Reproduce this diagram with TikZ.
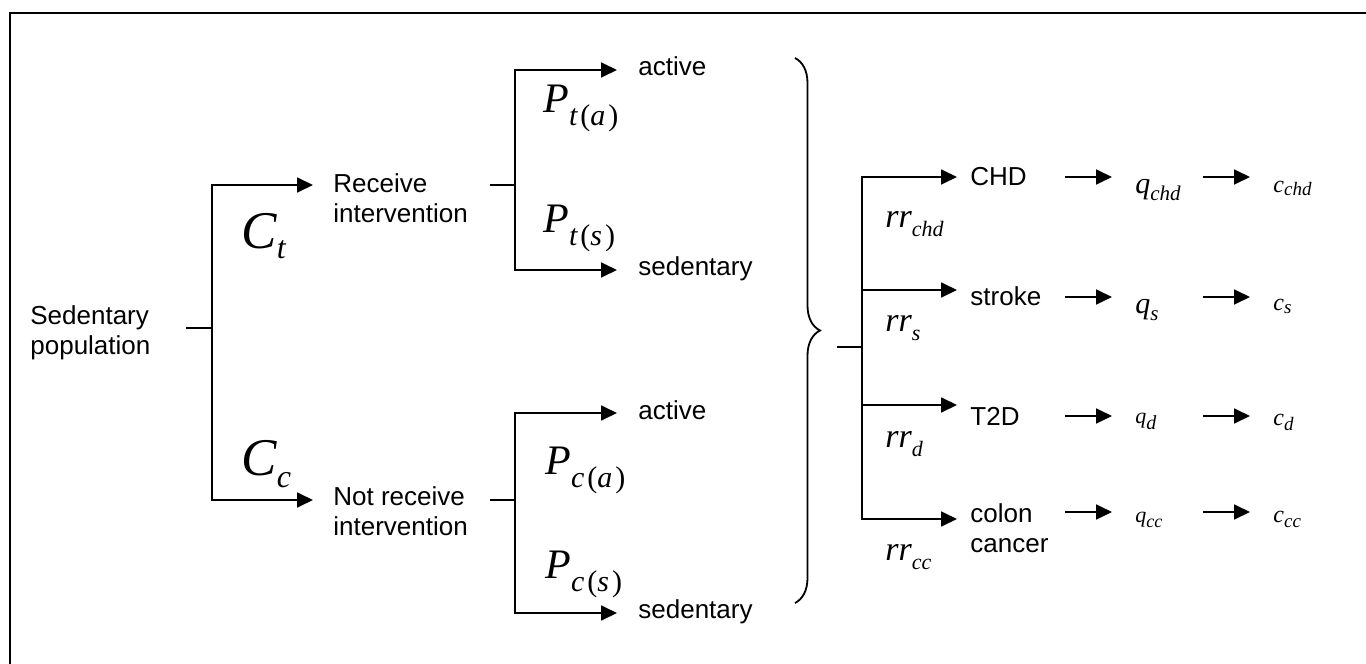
\documentclass[tikz,border=0pt]{standalone}
\usepackage{fontspec}
\setmainfont{Liberation Sans}
\newfontfamily\tms{Liberation Serif}
\usetikzlibrary{arrows.meta,decorations.pathreplacing}

% italic symbol with a lowered subscript: sizes, symbol, subscript, drop
\newcommand\vlab[5]{{\tms\itshape\fontsize{#1}{#1}\selectfont #3\raisebox{-#5}{\fontsize{#2}{#2}\selectfont #4}}}
\newcommand\up[1]{{\upshape #1}}

\tikzset{
  wire/.style={line width=0.9pt},
  arr/.style={wire, -{Triangle[length=8pt,width=7.5pt]}},
  frame/.style={line width=1.1pt},
  % base anchor of a multi-line node sits on its last line
  txt/.style={inner sep=0pt, anchor=base west, align=left,
              font=\fontsize{13}{15}\selectfont},
  lab/.style={inner sep=0pt, anchor=base west},
  bracket/.style={line width=0.9pt, decorate,
                  decoration={brace, amplitude=12.5pt}},
}

\begin{document}
\begin{tikzpicture}[x=0.5pt,y=-0.5pt]
\useasboundingbox (0,0) rectangle (1366,664);
\draw[frame] (10,664) -- (10,13) -- (1366,13);

% ---- first split: intervention or not
\node[txt] (pop)  at (30,354)  {Sedentary\\population};
\node[txt] (recv) at (333,222) {Receive\\intervention};
\node[txt] (nrec) at (333,535) {Not receive\\intervention};

\coordinate (popOut) at (186,328);
\coordinate (j1)     at (212,328);
\coordinate (recvIn) at (313,185);
\coordinate (nrecIn) at (313,500);
\draw[wire] (popOut) -- (j1);
\draw[arr] (j1) |- (recvIn);
\draw[arr] (j1) |- (nrecIn);

\node[lab] (ct) at (241,248) {\vlab{26.5pt}{16pt}{C}{t}{5pt}};
\node[lab] (cc) at (241,475) {\vlab{26.5pt}{16pt}{C}{c}{6pt}};

% ---- second split: activity level, treated arm
\node[txt] (ta) at (638,75)  {active};
\node[txt] (ts) at (638,275) {sedentary};
\coordinate (recvOut) at (490,185);
\coordinate (j2)      at (515,185);
\coordinate (taIn)    at (617,70);
\coordinate (tsIn)    at (617,270);
\draw[wire] (recvOut) -- (j2);
\draw[arr] (j2) |- (taIn);
\draw[arr] (j2) |- (tsIn);
\node[lab] (pta) at (543,112) {\vlab{21pt}{15pt}{P}{t\hspace{1.5pt}\up{(}a\hspace{1.5pt}\up{)}}{6.5pt}};
\node[lab] (pts) at (543,232) {\vlab{21pt}{15pt}{P}{t\hspace{1.5pt}\up{(}s\hspace{1.5pt}\up{)}}{6.5pt}};

% ---- second split: activity level, control arm
\node[txt] (ca) at (638,419) {active};
\node[txt] (cs) at (638,618) {sedentary};
\coordinate (nrecOut) at (490,500);
\coordinate (j3)      at (515,500);
\coordinate (caIn)    at (617,413);
\coordinate (csIn)    at (617,613);
\draw[wire] (nrecOut) -- (j3);
\draw[arr] (j3) |- (caIn);
\draw[arr] (j3) |- (csIn);
\node[lab] (pca) at (545,474) {\vlab{21pt}{15pt}{P}{c\hspace{1.5pt}\up{(}a\hspace{1.5pt}\up{)}}{6.5pt}};
\node[lab] (pcs) at (545,578) {\vlab{21pt}{15pt}{P}{c\hspace{1.5pt}\up{(}s\hspace{1.5pt}\up{)}}{6.5pt}};

% ---- brace gathering all four activity states
\coordinate (brTop) at (795,58);
\coordinate (brBot) at (795,603);
\draw[bracket] (brTop) -- (brBot);

% ---- disease branches
\coordinate (brOut) at (837,347);
\coordinate (j4)    at (862,347);
\draw[wire] (brOut) -- (j4);

\node[txt] (chd)  at (970,185) {CHD};
\node[txt] (stk)  at (970,305) {stroke};
\node[txt] (t2d)  at (970,425) {T2D};
\node[txt] (colc) at (970,552) {colon\\cancer};

\coordinate (chdIn) at (957,177);
\coordinate (stkIn) at (957,290);
\coordinate (t2dIn) at (957,405);
\coordinate (colIn) at (957,519);
\draw[arr] (j4) |- (chdIn);
\draw[arr] (j4) |- (stkIn);
\draw[arr] (j4) |- (t2dIn);
\draw[arr] (j4) |- (colIn);

\node[lab] (rrchd) at (885,227) {\vlab{17pt}{11pt}{rr}{chd}{4.5pt}};
\node[lab] (rrs)   at (885,331) {\vlab{17pt}{11pt}{rr}{s}{4.5pt}};
\node[lab] (rrd)   at (885,447) {\vlab{17pt}{11pt}{rr}{d}{4.5pt}};
\node[lab] (rrcc)  at (885,560) {\vlab{17pt}{11pt}{rr}{cc}{4.5pt}};

% ---- quality of life and costs
\node[lab] (qchd) at (1135,193) {\vlab{15pt}{10.5pt}{q}{chd}{3.5pt}};
\node[lab] (qs)   at (1135,313) {\vlab{15pt}{10.5pt}{q}{s}{3.5pt}};
\node[lab] (qd)   at (1135,423) {\vlab{11pt}{10pt}{q}{d}{3pt}};
\node[lab] (qcc)  at (1135,522) {\vlab{11pt}{9pt}{q}{cc}{2.5pt}};

\node[lab] (cchd) at (1273,192) {\vlab{12pt}{9.5pt}{c}{chd}{1.5pt}};
\node[lab] (cs2)  at (1273,310) {\vlab{12pt}{9.5pt}{c}{s}{1.5pt}};
\node[lab] (cd)   at (1273,425) {\vlab{12pt}{9.5pt}{c}{d}{2.5pt}};
\node[lab] (ccc)  at (1273,522) {\vlab{12pt}{9.5pt}{c}{cc}{2.5pt}};

\foreach \r/\y in {chd/177, stk/297, t2d/416, col/512}{
  \coordinate (\r QA) at (1065,\y);
  \coordinate (\r QB) at (1112,\y);
  \coordinate (\r CA) at (1203,\y);
  \coordinate (\r CB) at (1250,\y);
  \draw[arr] (\r QA) -- (\r QB);
  \draw[arr] (\r CA) -- (\r CB);
}
\end{tikzpicture}
\end{document}
